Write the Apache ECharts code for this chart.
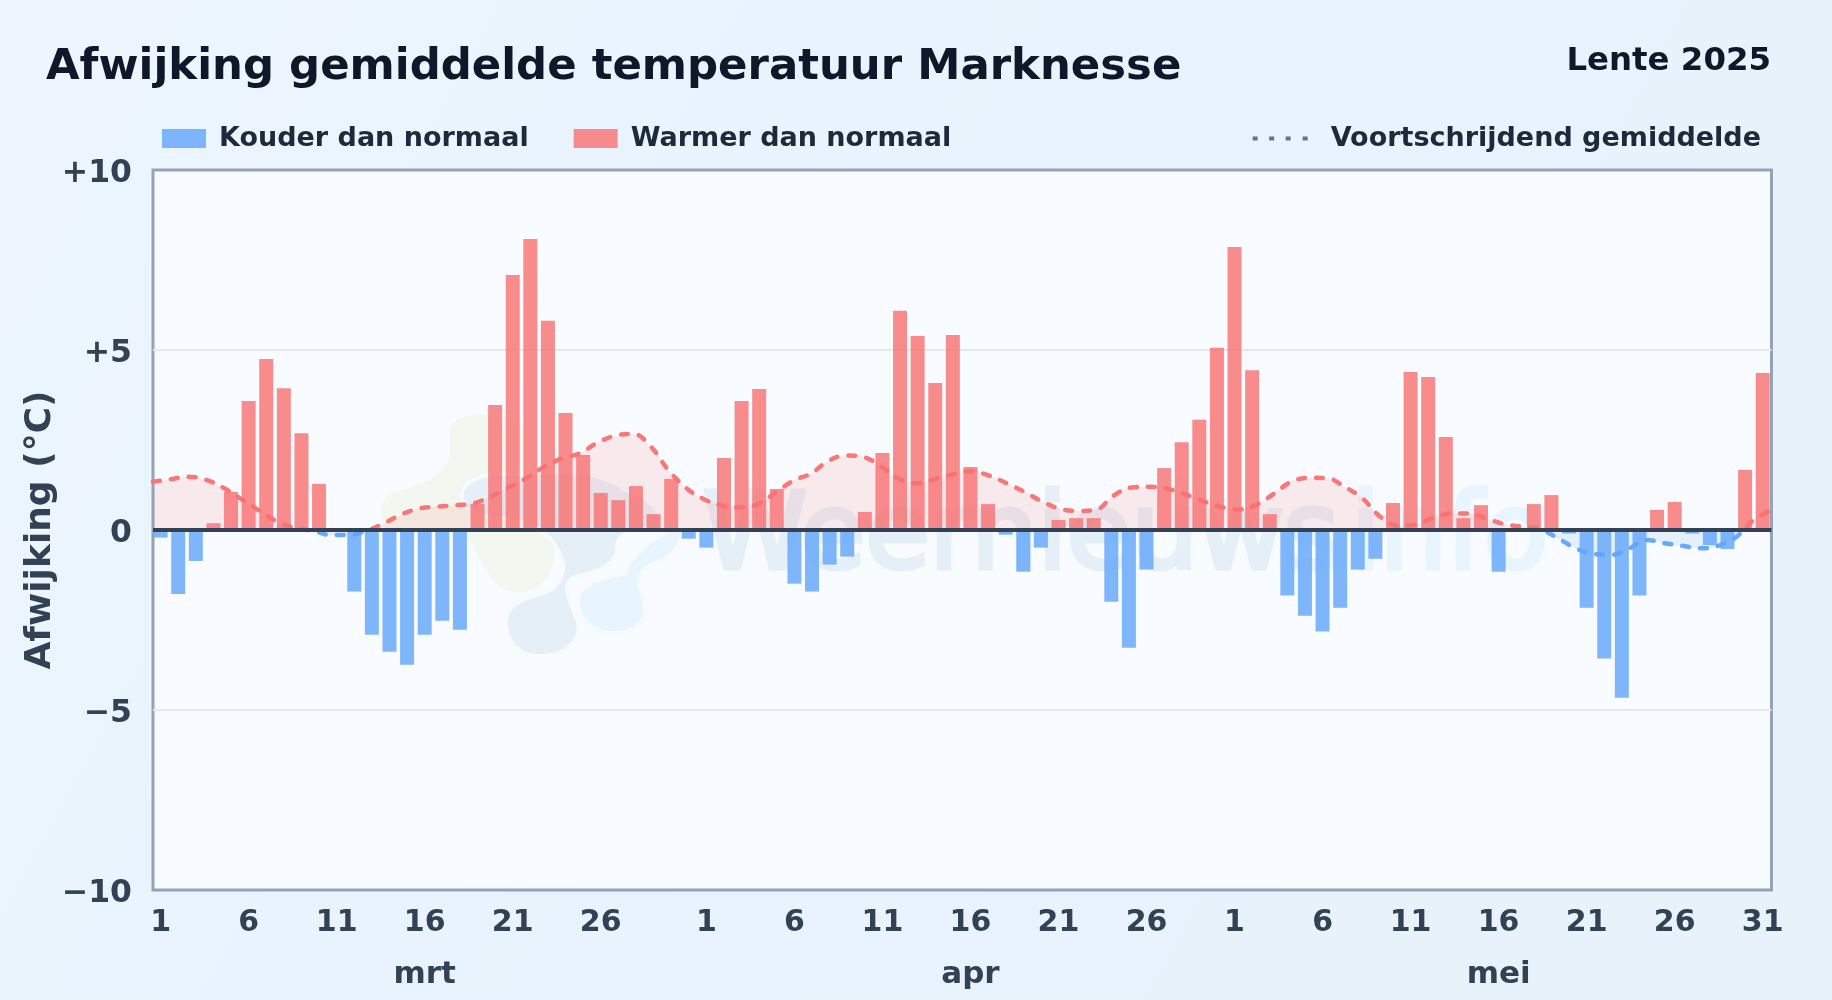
<!DOCTYPE html>
<html>
<head>
<meta charset="utf-8">
<style>html,body{margin:0;padding:0;background:#e8f2fc}#c{width:1832px;height:1000px}</style>
<script src="https://cdn.jsdelivr.net/npm/echarts@6/dist/echarts.min.js"></script>
</head>
<body>
<div id="c"></div>
<script>
const deviations = [
 -0.21,-1.78,-0.86,0.19,1.06,3.58,4.75,3.94,2.69,1.28,0,-1.71,-2.91,-3.38,-3.74,-2.91,-2.52,-2.77,0.72,3.47,7.08,8.08,5.81,3.25,2.08,1.03,0.83,1.22,0.44,1.42,-0.24,
 -0.49,2.0,3.58,3.92,1.14,-1.49,-1.71,-0.96,-0.74,0.5,2.14,6.09,5.39,4.08,5.42,1.75,0.72,-0.13,-1.16,-0.49,0.28,0.33,0.33,-1.99,-3.27,-1.10,1.72,2.44,3.06,
 5.06,7.86,4.44,0.44,-1.82,-2.38,-2.82,-2.16,-1.10,-0.80,0.75,4.39,4.25,2.58,0.33,0.69,-1.16,0,0.72,0.97,-0.1,-2.16,-3.57,-4.66,-1.82,0.56,0.78,-0.1,-0.42,-0.53,1.67,4.36
];
const runningMean = [
 1.34,1.41,1.48,1.39,1.16,0.85,0.53,0.23,0.05,-0.02,-0.14,-0.14,-0.02,0.19,0.44,0.6,0.65,0.69,0.74,0.93,1.18,1.44,1.76,1.99,2.13,2.43,2.62,2.67,2.31,1.65,1.16,
 0.85,0.68,0.63,0.72,1.04,1.37,1.57,1.93,2.07,2.02,1.74,1.41,1.30,1.42,1.55,1.64,1.51,1.30,1.06,0.79,0.59,0.53,0.56,0.95,1.18,1.2,1.15,1.0,0.81,
 0.65,0.57,0.69,1.0,1.34,1.45,1.44,1.2,0.88,0.37,0.12,0.16,0.34,0.46,0.46,0.31,0.16,0.09,0.02,-0.23,-0.51,-0.67,-0.69,-0.51,-0.28,-0.37,-0.44,-0.51,-0.44,-0.2,0.28,0.56
];
const tickIndex = [0,5,10,15,20,25,31,36,41,46,51,56,61,66,71,76,81,86,91];
const tickLabels = ['1','6','11','16','21','26','1','6','11','16','21','26','1','6','11','16','21','26','31'];
const monthIndex = [15,46,76];
const monthLabels = ['mrt','apr','mei'];
const yTickLabels = {'10':'+10','5':'+5','0':'0','-5':'\u22125','-10':'\u221210'};

const FONT = '"DejaVu Sans", sans-serif';
const RED = 'rgba(248,113,113,0.8)', BLUE = 'rgba(96,165,250,0.8)';
const coldData = deviations.map((v,i)=>[i, v<0 ? v : null]);
const warmData = deviations.map((v,i)=>[i, v>0 ? v : null]);
const lineData = runningMean.map((v,i)=>[i, v]);

echarts.graphic.registerShape('blobGreen', echarts.graphic.extendPath('M450 430 C450 418,470 413,490 414 L520 420 L540 500 C552 530,558 550,553 565 C548 585,530 593,515 593 C495 590,485 570,476 552 C470 540,468 535,460 532 L385 530 C378 510,380 498,395 492 C420 484,440 482,450 455 Z',{}));
echarts.graphic.registerShape('blobLight', echarts.graphic.extendPath('M578 604 C576 585,600 578,625 573 C630 558,650 538,675 528 C690 523,680 560,650 565 C635 572,640 590,645 605 C648 624,630 634,612 633 C595 633,579 620,578 604 Z',{}));
echarts.graphic.registerShape('blobGrey', echarts.graphic.extendPath('M462 493 C465 478,490 472,520 474 C560 470,600 470,625 490 C650 500,665 510,655 525 C640 535,620 528,617 545 C618 565,600 572,575 577 C560 583,570 600,578 622 C582 645,560 656,540 656 C518 656,505 640,506 622 C507 605,520 600,540 594 C558 590,566 575,562 560 C556 535,530 520,500 518 C475 515,460 510,462 493 Z',{}));

const chart = echarts.init(document.getElementById('c'), null, {renderer:'canvas', width:1832, height:1000});
chart.setOption({
  animation:false,
  backgroundColor:{type:'linear',x:0,y:0,x2:1,y2:1,colorStops:[{offset:0,color:'#edf6fe'},{offset:0.35,color:'#e8f3fd'},{offset:1,color:'#e8f2fb'}]},
  title:[
    {text:'Afwijking gemiddelde temperatuur Marknesse',left:46,top:46,padding:0,textStyle:{fontFamily:FONT,fontWeight:'bold',fontSize:43.4,color:'#0f172a'}},
    {text:'Lente 2025',right:61,top:46,padding:0,textStyle:{fontFamily:FONT,fontWeight:'bold',fontSize:32.4,color:'#0f172a'}}
  ],
  legend:[
    {left:162,top:125,padding:0,itemWidth:44,itemHeight:19,itemGap:45,
     data:['Kouder dan normaal','Warmer dan normaal'],icon:'rect',
     textStyle:{fontFamily:FONT,fontWeight:'bold',fontSize:27,color:'#1e293b',padding:[0,0,0,8]}},
    {right:71,top:125,padding:0,itemWidth:55,itemHeight:4,
     data:[{name:'Voortschrijdend gemiddelde',icon:'path://M0 0h5v4H0zM16.5 0h5v4h-5zM33 0h5v4h-5zM50 0h5v4h-5z',itemStyle:{color:'#64748b'}}],
     textStyle:{fontFamily:FONT,fontWeight:'bold',fontSize:27,color:'#1e293b',padding:[0,0,0,18]}}
  ],
  grid:{left:153,top:170,width:1618.5,height:720,show:true,backgroundColor:'#f8fbff',borderColor:'#94a3b8',borderWidth:3,containLabel:false},
  xAxis:[
    {type:'value',position:'bottom',min:-0.432,max:91.5,splitLine:{show:false},axisLine:{show:false,onZero:false},axisTick:{show:false},
     axisLabel:{customValues:tickIndex,margin:18,hideOverlap:false,fontFamily:FONT,fontWeight:'bold',fontSize:30,color:'#334155',
       formatter:v=>tickLabels[tickIndex.indexOf(v)]}},
    {type:'value',position:'bottom',offset:54,min:-0.432,max:91.5,splitLine:{show:false},axisLine:{show:false,onZero:false},axisTick:{show:false},
     axisLabel:{customValues:monthIndex,margin:15,hideOverlap:false,fontFamily:FONT,fontWeight:'bold',fontSize:31,color:'#334155',
       formatter:v=>monthLabels[monthIndex.indexOf(v)]}},
    {type:'value',show:false,position:'bottom',min:0,max:91,splitLine:{show:false}}
  ],
  yAxis:{type:'value',min:-10,max:10,interval:5,
    name:'Afwijking (\u00b0C)',nameLocation:'middle',nameRotate:90,nameGap:94,nameMoveOverlap:false,
    nameTextStyle:{fontFamily:FONT,fontWeight:'bold',fontSize:36,color:'#334155'},
    axisLine:{show:false},axisTick:{show:false},
    splitLine:{show:true,showMinLine:false,showMaxLine:false,lineStyle:{color:'#e2e8ec',width:2}},
    axisLabel:{margin:21,formatter:v=>'{t|'+yTickLabels[String(v)]+'}',
      rich:{t:{padding:[7,0,0,0],fontFamily:FONT,fontWeight:'bold',fontSize:31.5,color:'#334155'}}}},
  visualMap:{show:false,type:'piecewise',seriesIndex:2,dimension:1,
    pieces:[{gte:-10,lt:0,color:'#60a5fa'},{gte:0,lte:10,color:'#f87171'}]},
  graphic:{z:1,elements:[
    {type:'blobGreen',silent:true,style:{fill:'#f2f8f0'}},
    {type:'blobLight',silent:true,style:{fill:'#e8f4fe',stroke:'#f6fbff',lineWidth:4}},
    {type:'blobGrey',silent:true,style:{fill:'#e5eff8',stroke:'#f6fbff',lineWidth:4}},
    {type:'text',silent:true,x:703,y:488,style:{text:'Weernieuws',fontFamily:FONT,fontSize:105,fill:'#e5eff8',stroke:'#e5eff8',lineWidth:5}},
    {type:'text',silent:true,x:1548,y:488,style:{text:'.info',fontFamily:FONT,fontSize:105,fill:'#e8f4fe',stroke:'#e8f4fe',lineWidth:5,align:'right'}}
  ]},
  series:[
    {name:'Kouder dan normaal',type:'bar',xAxisIndex:0,barWidth:14,barGap:'-100%',z:2,data:coldData,itemStyle:{color:BLUE}},
    {name:'Warmer dan normaal',type:'bar',xAxisIndex:0,barWidth:14,barGap:'-100%',z:2,data:warmData,itemStyle:{color:RED}},
    {name:'Voortschrijdend gemiddelde',type:'line',xAxisIndex:2,z:3,smooth:0.4,symbol:'none',clip:true,data:lineData,
     lineStyle:{width:4.5,type:[7,11],cap:'round',opacity:0.95},
     areaStyle:{opacity:0.13,origin:'auto'},
     markLine:{silent:true,symbol:'none',label:{show:false},data:[{yAxis:0}],lineStyle:{color:'#334155',width:4,type:'solid'},animation:false}}
  ]
});
</script>
</body>
</html>
